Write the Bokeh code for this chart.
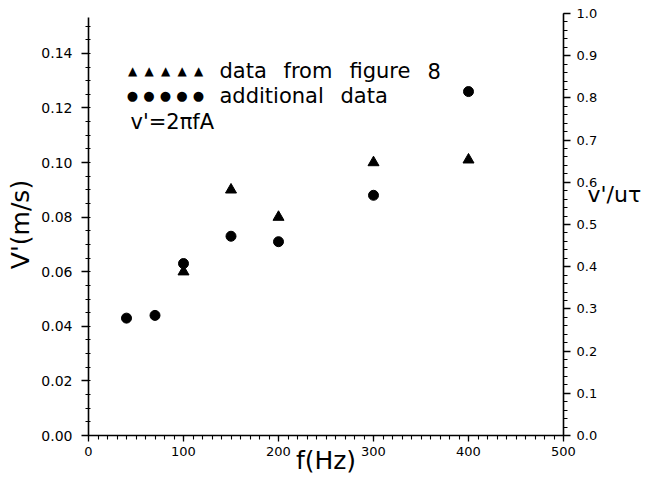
import math
from bokeh.plotting import figure
from bokeh.models import (Range1d, LinearAxis, SingleIntervalTicker, FixedTicker,
                          NumeralTickFormatter, Label)
from bokeh.embed import file_html
from bokeh.resources import INLINE

# ---- data ----
fig8_f = [100, 150, 200, 300, 400]
fig8_v = [0.060, 0.090, 0.080, 0.100, 0.101]
add_f = [40, 70, 100, 150, 200, 300, 400]
add_v = [0.043, 0.044, 0.063, 0.073, 0.071, 0.088, 0.126]

legend_labels = ["data from figure 8", "additional data"]
formula_text = "v'=2\u03c0fA"
x_label = "f(Hz)"
y_label = "V'(m/s)"
y2_label = "v'/u\u03c4"

# ---- layout ----
W, H = 655, 480
L, R, T, B = 88, 92, 13, 45
FW, FH = W - L - R, H - T - B
X_MAX = 500
Y_TOP = 0.1546
FONT = "DejaVu Sans"

p = figure(width=W, height=H, output_backend="svg", toolbar_location=None,
           x_range=Range1d(0, X_MAX), y_range=Range1d(0, Y_TOP),
           min_border_left=L, min_border_right=R,
           min_border_top=T, min_border_bottom=B)
p.outline_line_color = None
p.grid.visible = False
p.background_fill_color = "white"
p.border_fill_color = "white"
p.extra_y_ranges = {"ratio": Range1d(0, 1.0)}

# axes
xa = p.xaxis[0]
xa.ticker = SingleIntervalTicker(interval=100, num_minor_ticks=10)
xa.formatter = NumeralTickFormatter(format="0")
ya = p.yaxis[0]
ya.ticker = SingleIntervalTicker(interval=0.02, num_minor_ticks=4)
ya.formatter = NumeralTickFormatter(format="0.00")
ya.bounds = (0, 0.153)
ra = LinearAxis(y_range_name="ratio",
                ticker=SingleIntervalTicker(interval=0.1, num_minor_ticks=5),
                formatter=NumeralTickFormatter(format="0.0"))
p.add_layout(ra, "right")

# invisible axis that only carries the right-hand title
ra2 = LinearAxis(y_range_name="ratio", ticker=FixedTicker(ticks=[]),
                 axis_line_color=None,
                 major_tick_line_color=None, minor_tick_line_color=None,
                 major_tick_out=0, major_label_standoff=0,
                 major_label_text_font_size="0px")
p.add_layout(ra2, "right")

for ax in (xa, ya, ra):
    ax.axis_line_color = "black"
    ax.axis_line_width = 1.6
    ax.major_tick_line_color = "black"
    ax.minor_tick_line_color = "black"
    ax.major_tick_line_width = 1.3
    ax.minor_tick_line_width = 1.1
    ax.major_tick_in = 0
    ax.major_label_text_font = FONT
    ax.major_label_text_color = "black"
    ax.major_label_text_font_size = "13px"

for ax in (xa, ya, ra2):
    ax.axis_label_text_font = FONT
    ax.axis_label_text_font_style = "normal"
    ax.axis_label_text_color = "black"
    ax.axis_label_text_font_size = "25px"

xa.major_tick_out = 6
xa.minor_tick_out = 4
xa.minor_tick_in = 0
xa.major_label_standoff = 5
xa.axis_label = x_label
xa.axis_label_standoff = -13

ya.major_tick_out = 7
ya.minor_tick_out = 3
ya.minor_tick_in = 2
ya.major_label_standoff = 9
ya.major_label_text_font_size = "14px"
ya.axis_label = y_label
ya.axis_label_standoff = 3

ra.major_tick_out = 7
ra.minor_tick_out = 4
ra.minor_tick_in = 0
ra.major_label_standoff = 6

# extra blank lines lift the single visible line above the axis centre
ra2.axis_label = y2_label + "\n\u00a0\n\u00a0"
ra2.axis_label_orientation = "horizontal"
ra2.axis_label_standoff = -13
ra2.axis_label_text_font_size = "22px"

# data points
p.scatter(fig8_f, fig8_v, marker="triangle", size=11,
          fill_color="black", line_color="black")
p.scatter(add_f, add_v, marker="circle", size=10,
          fill_color="black", line_color="black")


# text annotations inside the frame (canvas pixels converted to data)
def dx(px):
    return (px - L) * X_MAX / FW


def dy(py):
    return (T + FH - py) * Y_TOP / FH


def lab(text, px, py, size, align="left"):
    p.add_layout(Label(x=dx(px), y=dy(py), text=text, text_font=FONT,
                       text_font_size=f"{size}px", text_align=align,
                       text_baseline="middle", text_color="black"))


# legend-like block
for i in range(5):
    lab("\u25b2", 132 + 16.5 * i, 70, 12, align="center")
    lab("\u25cf", 132 + 16.5 * i, 95, 13, align="center")
w1 = legend_labels[0].split(" ")
for word, px in zip(w1, [219, 283, 349, 427]):
    lab(word, px, 70, 21)
w2 = legend_labels[1].split(" ")
for word, px in zip(w2, [219, 340]):
    lab(word, px, 95, 21)
lab(formula_text, 130, 121, 21)

open("out.html", "w").write(file_html(p, INLINE))
